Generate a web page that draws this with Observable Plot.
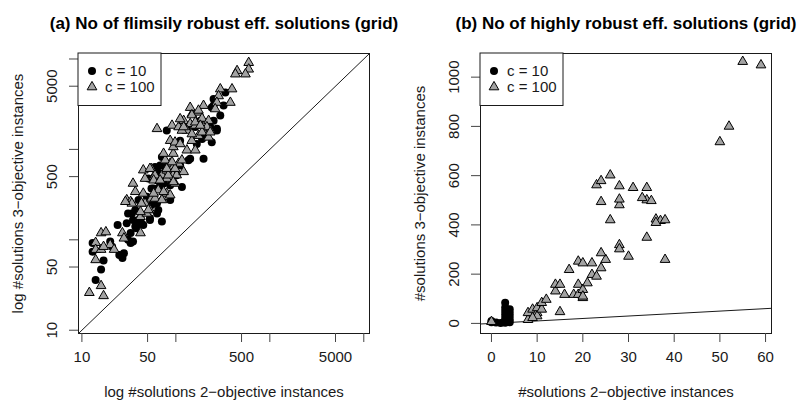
<!DOCTYPE html>
<html>
<head>
<meta charset="utf-8">
<script src="https://cdn.jsdelivr.net/npm/d3@7"></script>
<script src="https://cdn.jsdelivr.net/npm/@observablehq/plot@0.6"></script>
<style>
  body { margin: 0; background: #fff; }
  #wrap { display: flex; width: 801px; height: 408px; }
  svg { font-family: "Liberation Sans", Arial, Helvetica, sans-serif; }
</style>
</head>
<body>
<div id="wrap"></div>
<script>
// Number of flimsily robust efficient solutions: [2-objective, 3-objective]
const flimsyC10 = [
  [14,36],[16,47],[17,59],[13,74],[13,92],[20,96],[21,84],[27,63],[25,68],[28,71],
  [24,146],[30,152],[33,119],[35,96],[33,92],[31,100],[34,196],[37,214],[40,166],[43,152],
  [53,166],[63,196],[71,159],[37,140],[40,276],[49,299],[63,253],[68,385],[74,420],[87,276],
  [31,196],[35,166],[60,640],[77,640],[65,541],[51,476],[63,456],[68,402],[58,370],[55,242],
  [65,214],[42,173],[45,146],[38,134],[53,173],[80,1620],[131,1690],[182,2080],[214,1770],[241,1200],
  [167,1150],[190,1480],[136,760],[197,790],[68,665],[111,665],[63,588],[74,476],[102,518],[55,370],
  [87,402],[116,385],[71,825],[336,4270],[322,3050],[252,3050],[252,3600],[297,2370],[232,1770],[273,1690],
  [161,1770],[142,790],[111,1250],[273,1620],[252,2080],[241,2900],[210,1400],[190,1300]
];
const flimsyC100 = [
  [12,26],[16,31],[17,24],[14,60],[14,93],[16,119],[18,122],[14,78],[16,78],[20,88],
  [22,78],[17,84],[27,119],[28,104],[42,119],[30,276],[33,264],[37,340],[45,326],[47,253],
  [53,214],[42,180],[49,196],[55,287],[60,287],[65,355],[74,299],[80,326],[87,312],[98,420],
  [34,253],[29,264],[43,253],[58,326],[51,214],[42,204],[74,340],[71,276],[35,420],
  [45,590],[55,610],[87,700],[94,640],[107,700],[91,540],[102,520],[58,500],[71,518],[80,476],
  [80,588],[53,613],[60,518],[58,456],[68,456],[83,518],[94,437],[121,565],[47,476],[80,613],
  [98,613],[77,760],[91,725],[116,760],[74,900],[94,900],[131,980],[161,980],[94,1065],[87,1250],
  [98,1200],[111,1150],[148,1250],[174,1420],[223,1360],[63,1690],[91,1840],[107,1770],[121,2080],[148,2470],
  [174,2570],[142,1920],[131,1620],[161,1840],[206,1920],[232,1620],[116,1620],[596,9100],[596,7700],[448,7400],
  [430,6800],[550,6800],[297,4650],[396,4650],[285,3900],[380,3300],[273,3300],[262,2800],[142,2900],[197,3050],
  [174,2700],[148,2400],[161,2000],[190,2200],[223,2080],[214,1770],[190,1550],[232,1550],[121,1770],[182,1840],
  [148,1480],[111,2170]
];

// Number of highly robust efficient solutions: [2-objective, 3-objective]
const robustC10 = [
  [0,5],[0,10],[1,4],[2,2],[3,3],[3,12],[3,22],[3,36],[3,50],[3,65],
  [3,84],[4,5],[4,16],[4,30],[4,43],[4,57]
];
const robustC100 = [
  [0,7],[8,15],[8,43],[9,57],[10,43],[10,30],[9,23],[10,63],[11,57],[11,84],
  [12,97],[14,131],[14,158],[15,158],[15,47],[16,117],[18,117],[19,158],[19,117],[20,104],
  [20,137],[21,164],[17,218],[19,252],[20,245],[22,245],[22,198],[23,191],[24,225],[25,259],
  [20,110],[24,286],[26,420],[28,319],[28,302],[30,272],[24,494],[28,481],[34,501],[34,349],
  [36,423],[37,417],[38,420],[36,409],[38,259],[55,1063],[59,1049],[52,800],[50,737],[23,562],
  [24,579],[26,602],[28,558],[31,551],[34,551],[28,504],[33,510],[35,498]
];

// Axis ticks and their printed labels
const logTicks = [10, 50, 100, 500, 1000, 5000, 10000];
const logLabels = [10, 50, 500, 5000];
const linXTicks = [0, 10, 20, 30, 40, 50, 60];
const linYTicks = [0, 200, 400, 600, 800, 1000];

const seriesNames = ["c = 10", "c = 100"];
const titles = [
  "(a) No of flimsily robust eff. solutions (grid)",
  "(b) No of highly robust eff. solutions (grid)"
];
const xTitles = ["log #solutions 2\u2212objective instances", "#solutions 2\u2212objective instances"];
const yTitles = ["log #solutions 3\u2212objective instances", "#solutions 3\u2212objective instances"];

const FONT = "'Liberation Sans', Arial, Helvetica, sans-serif";
const TRI_FILL = "#a3a3a3";
const INK = "#1a1a1a";
const FS = 15;

function panel(o) {
  const W = 400, H = 408, mt = 53, mb = 75;
  const chart = Plot.plot({
    width: W, height: H,
    marginLeft: o.ml, marginRight: o.mr, marginTop: mt, marginBottom: mb,
    style: {fontFamily: FONT, fontSize: FS + "px", background: "white", color: INK, overflow: "visible"},
    x: {type: o.type, domain: o.domain},
    y: {type: o.type, domain: o.yDomain},
    marks: [
      // reference line y = x across the full panel
      Plot.line(o.domain, {x: d => d, y: d => d, stroke: INK, strokeWidth: 1}),
      Plot.dot(o.c10, {x: d => d[0], y: d => d[1], r: 4, symbol: "circle", fill: "black"}),
      Plot.dot(o.c100, {x: d => d[0], y: d => d[1], r: 3.6, symbol: "triangle", fill: TRI_FILL, stroke: "black", strokeWidth: 1}),
      Plot.frame({stroke: INK, strokeWidth: 1}),
      Plot.axisX({ticks: o.xTicks, tickSize: 9, tickFormat: () => "", label: null, stroke: "#444"}),
      Plot.axisY({ticks: o.yTicks, tickSize: 9, tickFormat: () => "", label: null, stroke: "#444"}),
      Plot.text(o.xLabels, {x: d => d, text: d => String(d), frameAnchor: "bottom", dy: 28,
        textAnchor: "middle", fontSize: FS, fill: INK}),
      Plot.text(o.yLabels, {y: d => d, text: d => String(d), frameAnchor: "left", dx: -26, rotate: -90,
        textAnchor: "middle", fontSize: FS, fill: INK}),
      Plot.text([o.xTitle], {text: d => d, frameAnchor: "bottom", dy: 63,
        textAnchor: "middle", fontSize: FS, fill: INK}),
      Plot.text([o.yTitle], {text: d => d, frameAnchor: "left", dx: -60, rotate: -90,
        textAnchor: "middle", fontSize: FS, fill: INK}),
      Plot.text([o.title], {text: d => d, frameAnchor: "top", dy: -37, textAnchor: "middle",
        fontSize: 17, fontWeight: "bold", fill: "black"})
    ]
  });

  // legend box in the upper-left corner of the frame
  const svg = d3.select(chart.tagName === "svg" ? chart : chart.querySelector("svg"));
  const g = svg.append("g").attr("transform", `translate(${o.ml},${mt})`);
  g.append("rect").attr("x", 0).attr("y", 0).attr("width", o.legendW).attr("height", 52.5)
    .attr("fill", "white").attr("stroke", INK).attr("stroke-width", 1);
  g.append("circle").attr("cx", 14).attr("cy", 18).attr("r", 4).attr("fill", "black");
  g.append("path").attr("transform", "translate(14,34)")
    .attr("d", d3.symbol(d3.symbolTriangle, Math.PI * 3.6 * 3.6)())
    .attr("fill", TRI_FILL).attr("stroke", "black").attr("stroke-width", 1);
  seriesNames.forEach((s, i) => {
    g.append("text").attr("x", 27).attr("y", 18 + i * 16).attr("dy", "0.35em")
      .attr("text-anchor", "start").attr("font-size", FS).attr("fill", INK).text(s);
  });
  return chart;
}

const wrap = document.getElementById("wrap");
wrap.appendChild(panel({
  type: "log", domain: [9.2, 11500], yDomain: [9.2, 11500],
  c10: flimsyC10, c100: flimsyC100,
  xTicks: logTicks, yTicks: logTicks, xLabels: logLabels, yLabels: logLabels,
  title: titles[0], xTitle: xTitles[0], yTitle: yTitles[0],
  ml: 78, mr: 31, legendW: 83
}));
wrap.appendChild(panel({
  type: "linear", domain: [-2.4, 61.3], yDomain: [-41, 1096],
  c10: robustC10, c100: robustC100,
  xTicks: linXTicks, yTicks: linYTicks, xLabels: linXTicks, yLabels: linYTicks,
  title: titles[1], xTitle: xTitles[1], yTitle: yTitles[1],
  ml: 80, mr: 29, legendW: 83
}));
</script>
</body>
</html>
